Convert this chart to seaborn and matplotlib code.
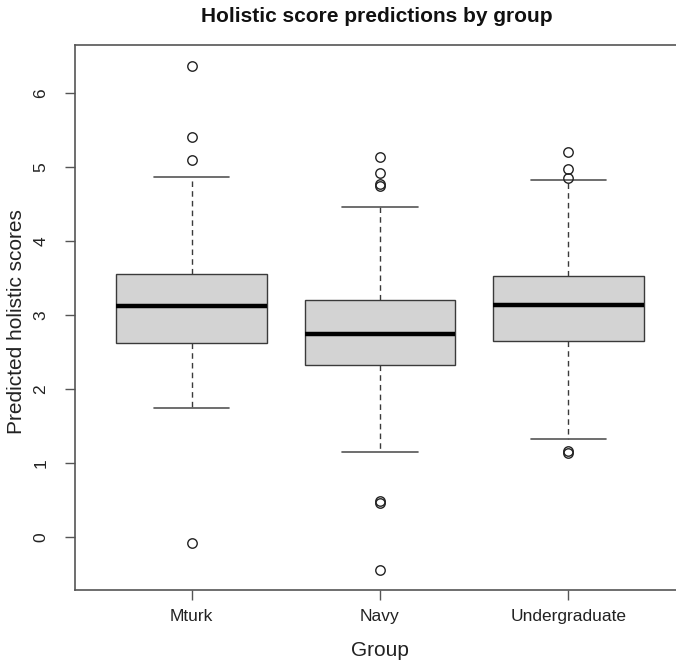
import matplotlib
matplotlib.use("Agg")
import matplotlib.pyplot as plt
import seaborn as sns

groups = ["Mturk", "Navy", "Undergraduate"]
whisker_low = [1.75, 1.15, 1.33]
q1 = [2.62, 2.32, 2.65]
median = [3.12, 2.74, 3.14]
q3 = [3.56, 3.21, 3.53]
whisker_high = [4.87, 4.46, 4.82]
outliers = [
    [6.37, 5.41, 5.10, -0.08],
    [5.14, 4.92, 4.77, 4.75, 0.49, 0.46, -0.45],
    [5.20, 4.97, 4.85, 1.16, 1.14],
]
y_ticks = [0, 1, 2, 3, 4, 5, 6]

sns.set_theme(style="white")
plt.rcParams["font.family"] = ["Liberation Sans", "DejaVu Sans"]

fig = plt.figure(figsize=(6.76, 6.63), dpi=100)
W, H = 676, 663
left, right, top, bottom = 75, 685, 45, 590
ax = fig.add_axes([left / W, (H - bottom) / H, (right - left) / W, (bottom - top) / H])

stats = []
for i, g in enumerate(groups):
    stats.append(dict(label=g, whislo=whisker_low[i], q1=q1[i], med=median[i],
                      q3=q3[i], whishi=whisker_high[i], fliers=outliers[i]))

edge = "#3a3a3a"
ax.bxp(stats, positions=[1, 2, 3], widths=0.8, capwidths=0.4, patch_artist=True,
       showfliers=True,
       boxprops=dict(facecolor="#d3d3d3", edgecolor=edge, linewidth=1.0),
       medianprops=dict(color="black", linewidth=3.2, solid_capstyle="butt"),
       whiskerprops=dict(color=edge, linewidth=1.0, linestyle=(0, (4, 3))),
       capprops=dict(color="#555555", linewidth=1.2),
       flierprops=dict(marker="o", markersize=6.8, markerfacecolor="none",
                       markeredgecolor="#222222", markeredgewidth=1.0))

ax.set_xlim(0.38, 3.62)
ax.set_ylim(-0.716, 6.65)
ax.set_xticks([1, 2, 3])
ax.set_xticklabels(groups, fontsize=12.5, color="#222222")
ax.set_yticks(y_ticks)
ax.set_yticklabels([str(v) for v in y_ticks], fontsize=12.5, rotation=90,
                   va="center", color="#222222")
ax.tick_params(axis="x", which="both", direction="out", length=7, width=1,
               color="#555555", bottom=True, pad=7)
ax.tick_params(axis="y", which="both", direction="out", length=7, width=1,
               color="#555555", left=True, pad=12)
for s in ax.spines.values():
    s.set_visible(True)
    s.set_color("#555555")
    s.set_linewidth(1.2)
ax.grid(False)
ax.set_facecolor("white")

fig.text(377 / W, 1 - 17 / H, "Holistic score predictions by group",
         ha="center", va="center", fontsize=15, fontweight="bold", color="#111111")
fig.text(380 / W, 1 - 651 / H, "Group", ha="center", va="center",
         fontsize=15, color="#222222")
fig.text(17 / W, 1 - 322 / H, "Predicted holistic scores", ha="center", va="center",
         rotation=90, fontsize=15, color="#222222")

fig.savefig("out.png", dpi=100, facecolor="white")
